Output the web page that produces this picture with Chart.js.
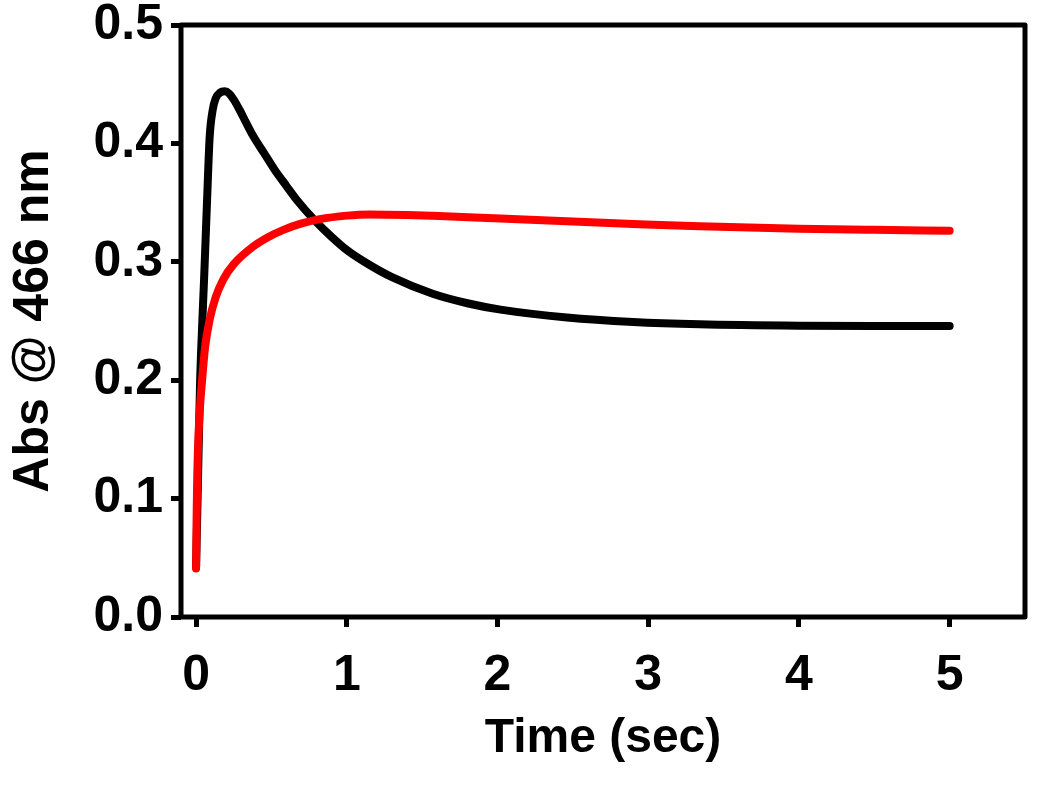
<!DOCTYPE html>
<html>
<head>
<meta charset="utf-8">
<script src="https://cdn.jsdelivr.net/npm/chart.js@4/dist/chart.umd.min.js"></script>
<style>
  html, body { margin: 0; padding: 0; background: #fff; }
  #wrap { width: 1050px; height: 798px; }
</style>
</head>
<body>
<div id="wrap"><canvas id="myChart" width="1050" height="798"></canvas></div>
<script>
// Tick values for both axes
const xTicks = [0, 1, 2, 3, 4, 5];
const yTicks = [0.0, 0.1, 0.2, 0.3, 0.4, 0.5];

// Black trace
const blackTime = [0, 0.01, 0.02, 0.027, 0.04, 0.053, 0.073, 0.09, 0.11, 0.13, 0.16, 0.19, 0.22, 0.25, 0.29, 0.33, 0.38, 0.45, 0.52, 0.6, 0.67, 0.78, 0.9, 1.0, 1.13, 1.3, 1.57, 1.8, 2.02, 2.46, 2.9, 3.34, 4.0, 4.5, 5.0];
const blackAbs  = [0.042, 0.10, 0.16, 0.20, 0.245, 0.285, 0.352, 0.405, 0.428, 0.438, 0.443, 0.444, 0.442, 0.437, 0.428, 0.418, 0.406, 0.392, 0.378, 0.364, 0.352, 0.336, 0.321, 0.310, 0.299, 0.287, 0.273, 0.265, 0.2596, 0.253, 0.2492, 0.2472, 0.246, 0.2458, 0.2458];

// Red trace
const redTime = [0, 0.004, 0.008, 0.013, 0.025, 0.04, 0.06, 0.09, 0.13, 0.18, 0.25, 0.38, 0.48, 0.58, 0.69, 0.82, 1.0, 1.15, 1.4, 1.57, 2.02, 2.46, 2.9, 3.34, 4.0, 4.5, 5.0];
const redAbs  = [0.041, 0.088, 0.12, 0.144, 0.175, 0.20, 0.228, 0.251, 0.27, 0.285, 0.298, 0.313, 0.321, 0.327, 0.332, 0.336, 0.339, 0.340, 0.3395, 0.3388, 0.3365, 0.3342, 0.332, 0.330, 0.328, 0.327, 0.3262];

const toPoints = (xs, ys) => xs.map((x, i) => ({ x: x, y: ys[i] }));

const font = "'Liberation Sans', Arial, sans-serif";

// draws the box round the plot area
const framePlugin = {
    id: 'frame',
    afterDatasetsDraw(chart) {
        const a = chart.chartArea;
        const ctx = chart.ctx;
        ctx.save();
        ctx.strokeStyle = '#000';
        ctx.lineWidth = 5;
        ctx.lineJoin = 'round';
        ctx.strokeRect(a.left, a.top, a.right - a.left, a.bottom - a.top);
        ctx.restore();
    }
};

const ctx = document.getElementById('myChart').getContext('2d');
new Chart(ctx, {
    type: 'scatter',
    data: {
        datasets: [
            {
                label: 'red',
                data: toPoints(redTime, redAbs),
                showLine: true,
                borderColor: '#ff0000',
                borderWidth: 8,
                borderCapStyle: 'round',
                pointRadius: 0,
                cubicInterpolationMode: 'monotone',
                order: 0
            },
            {
                label: 'black',
                data: toPoints(blackTime, blackAbs),
                showLine: true,
                borderColor: '#000',
                borderWidth: 8,
                borderCapStyle: 'round',
                pointRadius: 0,
                cubicInterpolationMode: 'monotone',
                order: 1
            }
        ]
    },
    options: {
        responsive: false,
        animation: false,
        layout: { padding: { top: 25, right: 25, left: 0, bottom: 0 } },
        plugins: {
            legend: { display: false },
            tooltip: { enabled: false }
        },
        scales: {
            x: {
                type: 'linear',
                min: -0.1,
                max: 5.5,
                afterFit: s => { s.height = 181; s.paddingLeft = 0; s.paddingRight = 0; },
                afterBuildTicks: s => { s.ticks = xTicks.map(v => ({ value: v })); },
                border: { display: false },
                grid: { drawOnChartArea: false, drawTicks: true, tickLength: 10, tickWidth: 5, color: '#000' },
                ticks: {
                    color: '#000',
                    padding: 19,
                    maxRotation: 0,
                    font: { family: font, size: 50, weight: 'bold' },
                    callback: v => String(v)
                },
                title: {
                    display: true,
                    text: 'Time (sec)',
                    color: '#000',
                    padding: { top: 0, bottom: 30 },
                    font: { family: font, size: 48, weight: 'bold' }
                }
            },
            y: {
                type: 'linear',
                min: 0,
                max: 0.5,
                afterFit: s => { s.width = 181; s.paddingTop = 0; s.paddingBottom = 0; },
                afterBuildTicks: s => { s.ticks = yTicks.map(v => ({ value: v })); },
                border: { display: false },
                grid: { drawOnChartArea: false, drawTicks: true, tickLength: 10, tickWidth: 5, color: '#000' },
                ticks: {
                    color: '#000',
                    padding: 8,
                    font: { family: font, size: 50, weight: 'bold' },
                    callback: v => Number(v).toFixed(1)
                },
                title: {
                    display: true,
                    text: 'Abs @ 466 nm',
                    color: '#000',
                    padding: { top: 4, bottom: 4 },
                    font: { family: font, size: 50, weight: 'bold' }
                }
            }
        }
    },
    plugins: [framePlugin]
});
</script>
</body>
</html>
